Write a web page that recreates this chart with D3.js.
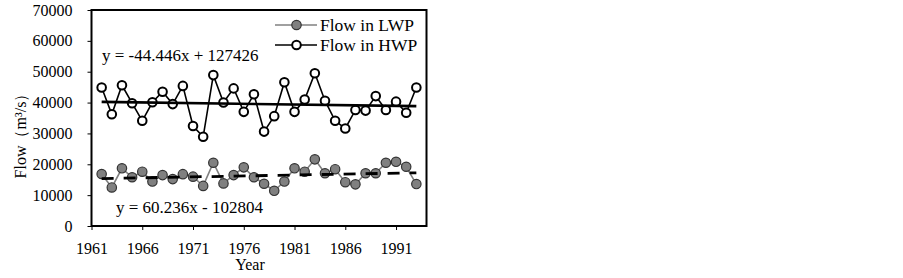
<!DOCTYPE html>
<html><head><meta charset="utf-8">
<script src="https://cdn.jsdelivr.net/npm/d3@7"></script>
<style>html,body{margin:0;padding:0;background:#fff;}svg{display:block;}</style>
</head><body>
<script>
const years = d3.range(1962, 1994);
const lwp = [16850,12500,18700,15800,17600,14400,16500,15200,16800,16000,13000,20500,13800,16500,19000,15800,13700,11400,14400,18700,17600,21600,17100,18400,14200,13500,17100,17100,20500,20800,19200,13600];
const hwp = [44900,36200,45600,39800,34100,40100,43500,39500,45400,32400,28900,48900,40000,44600,37000,42700,30600,35600,46600,37000,41000,49500,40600,34100,31600,37600,37400,42100,37600,40300,36700,44900];
const yTicks = [0,10000,20000,30000,40000,50000,60000,70000];
const xTicks = [1961,1966,1971,1976,1981,1986,1991];
const trendH = {a:-44.446, b:127426, label:"y = -44.446x + 127426"};
const trendL = {a:60.236, b:-102804, label:"y = 60.236x - 102804"};
const seriesNames = ["Flow in LWP","Flow in HWP"];

const W=903,H=278;
const svg=d3.select("body").append("svg").attr("width",W).attr("height",H);
svg.append("rect").attr("width",W).attr("height",H).attr("fill","#fff");
const font="'Liberation Serif','Times New Roman',serif";
const x=d3.scaleLinear().domain([1961,1994]).range([91.5,426.5]);
const y=d3.scaleLinear().domain([0,70000]).range([226,10]);

// axes
const ya=svg.append("g").attr("transform","translate(91.5,0)")
  .call(d3.axisLeft(y).tickValues(yTicks).tickSize(4).tickPadding(15).tickFormat(d3.format("d")));
const xa=svg.append("g").attr("transform","translate(0,226)")
  .call(d3.axisBottom(x).tickValues(xTicks).tickSize(4).tickPadding(13).tickFormat(d3.format("d")));
[ya,xa].forEach(g=>{g.select(".domain").remove();g.selectAll("line").attr("stroke","#000").attr("stroke-width",1);
  g.selectAll("text").attr("font-family",font).attr("font-size",16).attr("fill","#000");});

// frame
svg.append("rect").attr("x",x(1961)).attr("y",y(70000)).attr("width",x(1994)-x(1961)).attr("height",y(0)-y(70000))
  .attr("fill","none").attr("stroke","#000").attr("stroke-width",2);

const line=d3.line().x((d,i)=>x(years[i])).y(d=>y(d));
// LWP
svg.append("path").datum(lwp).attr("d",line).attr("fill","none").attr("stroke","#808080").attr("stroke-width",1.6);
svg.append("g").selectAll("circle").data(lwp).join("circle").attr("cx",(d,i)=>x(years[i])).attr("cy",d=>y(d))
  .attr("r",4.7).attr("fill","#808080").attr("stroke","#333").attr("stroke-width",1.2);
// HWP
svg.append("path").datum(hwp).attr("d",line).attr("fill","none").attr("stroke","#000").attr("stroke-width",1.6);
svg.append("g").selectAll("circle").data(hwp).join("circle").attr("cx",(d,i)=>x(years[i])).attr("cy",d=>y(d))
  .attr("r",4.3).attr("fill","#fff").attr("stroke","#000").attr("stroke-width",2);

// trendlines
const x0=years[0],x1=years[years.length-1];
svg.append("line").attr("x1",x(x0)).attr("x2",x(x1)).attr("y1",y(trendH.a*x0+trendH.b)).attr("y2",y(trendH.a*x1+trendH.b))
  .attr("stroke","#000").attr("stroke-width",2.6);
svg.append("line").attr("x1",x(x0)).attr("x2",x(x1)).attr("y1",y(trendL.a*x0+trendL.b)).attr("y2",y(trendL.a*x1+trendL.b))
  .attr("stroke","#000").attr("stroke-width",2.8).attr("stroke-dasharray","12,10");

// equations
svg.append("text").attr("x",102).attr("y",61).attr("font-family",font).attr("font-size",17).text(trendH.label);
svg.append("text").attr("x",116).attr("y",213).attr("font-family",font).attr("font-size",17).text(trendL.label);

// legend
const leg=[{n:seriesNames[0],c:"#808080",f:"#808080",s:"#333",sw:1.2,r:4.7,y:25},{n:seriesNames[1],c:"#000",f:"#fff",s:"#000",sw:2,r:4.3,y:45}];
leg.forEach(l=>{
  svg.append("line").attr("x1",275).attr("x2",317).attr("y1",l.y).attr("y2",l.y).attr("stroke",l.c).attr("stroke-width",1.6);
  svg.append("circle").attr("cx",296.5).attr("cy",l.y).attr("r",l.r).attr("fill",l.f).attr("stroke",l.s).attr("stroke-width",l.sw);
  svg.append("text").attr("x",320).attr("y",l.y+5.5).attr("font-family",font).attr("font-size",17.5).text(l.n);
});

// axis titles
svg.append("text").attr("x",250).attr("y",270).attr("text-anchor","middle").attr("font-family",font).attr("font-size",16).text("Year");
svg.append("text").attr("transform","translate(26,132) rotate(-90)").attr("text-anchor","middle").attr("font-family",font).attr("font-size",16)
  .text("Flow（m³/s）");
</script>
</body></html>
